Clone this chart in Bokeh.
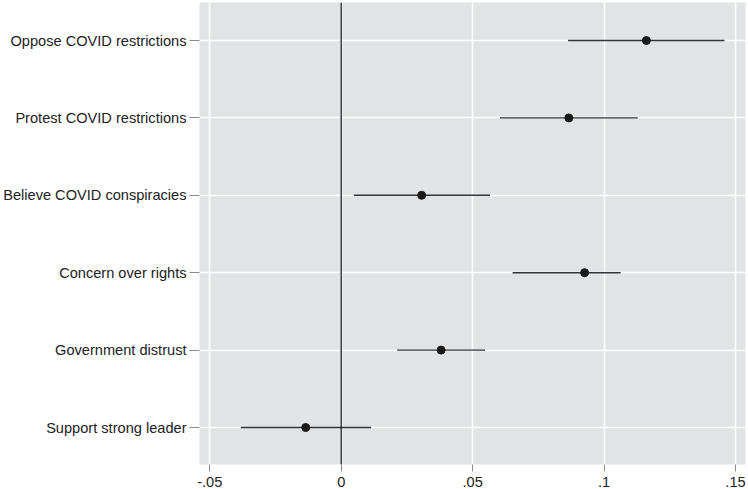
from bokeh.plotting import figure
from bokeh.models import Range1d, FixedTicker, Span, ColumnDataSource
from bokeh.embed import file_html
from bokeh.resources import INLINE

categories = ["Support strong leader", "Government distrust", "Concern over rights",
              "Believe COVID conspiracies", "Protest COVID restrictions", "Oppose COVID restrictions"]
estimates = [-0.0135, 0.038, 0.0926, 0.0306, 0.0866, 0.1161]
lower = [-0.0382, 0.0213, 0.0652, 0.0048, 0.0604, 0.0863]
upper = [0.0114, 0.0547, 0.1063, 0.0566, 0.1128, 0.1458]
x_ticks = [-0.05, 0, 0.05, 0.1, 0.15]
x_tick_labels = ["-.05", "0", ".05", ".1", ".15"]

pos = list(range(len(categories)))
src = ColumnDataSource(dict(y=pos, est=estimates, lo=lower, hi=upper))

p = figure(width=748, height=489, output_backend="svg", toolbar_location=None,
           x_range=Range1d(-0.0539, 0.1538), y_range=Range1d(-0.478, 5.491),
           min_border_left=198, min_border_right=3, min_border_top=2, min_border_bottom=25)
p.background_fill_color = "#e2e3e5"
p.border_fill_color = "white"
p.outline_line_color = None

p.xaxis.ticker = FixedTicker(ticks=x_ticks)
p.xaxis.major_label_overrides = {t: l for t, l in zip(x_ticks, x_tick_labels)}
p.yaxis.ticker = FixedTicker(ticks=pos)
p.yaxis.major_label_overrides = {i: c for i, c in zip(pos, categories)}

for ax in (p.xaxis, p.yaxis):
    ax.axis_line_color = None
    ax.major_tick_line_color = "#8a8a8a"
    ax.major_tick_in = 0
    ax.minor_tick_line_color = None
    ax.major_label_text_font = "Liberation Sans"
    ax.major_label_text_font_size = "14.6px"
    ax.major_label_text_color = "#222222"
p.yaxis.major_tick_out = 10
p.yaxis.major_label_standoff = 3
p.xaxis.major_tick_out = 7
p.xaxis.major_label_standoff = 5

p.grid.grid_line_color = "white"
p.grid.grid_line_width = 1.6
p.xgrid.minor_grid_line_color = None

p.add_layout(Span(location=0, dimension="height", line_color="#111111", line_width=1.2))

p.segment(x0="lo", x1="hi", y0="y", y1="y", source=src, line_color="#333333", line_width=1.4)
p.scatter(x="est", y="y", source=src, size=8, fill_color="#1a1a1a", line_color="#1a1a1a")

open("out.html", "w").write(file_html(p, INLINE))
